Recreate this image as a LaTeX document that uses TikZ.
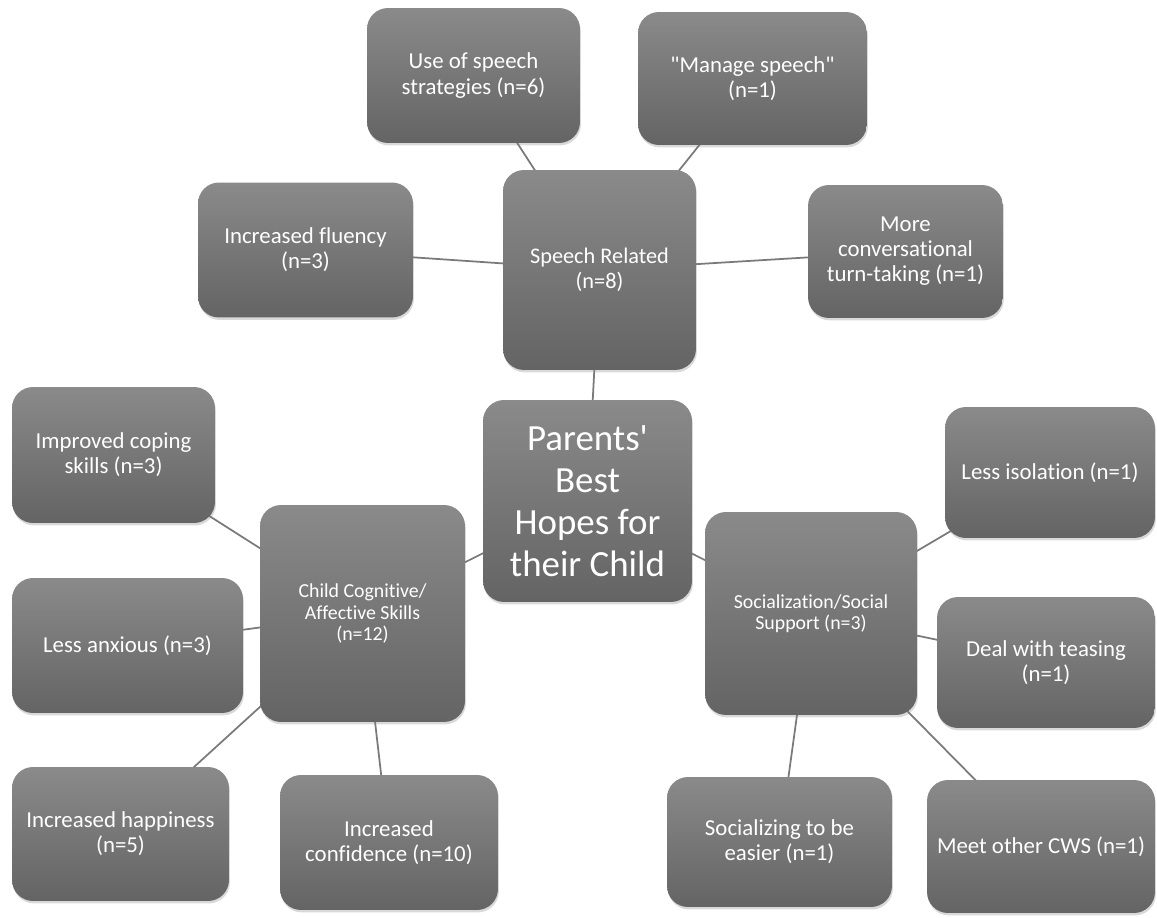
\documentclass[tikz,border=0pt]{standalone}
\usepackage{fontspec}
\newfontfamily\hopefont{Carlito}[Ligatures=NoCommon]
\usetikzlibrary{shadows,backgrounds}
\definecolor{boxtop}{HTML}{8A8A8A}
\definecolor{boxbottom}{HTML}{646464}
\definecolor{linkgray}{HTML}{7A7A7A}
\tikzset{
  hopebox/.style={rectangle, rounded corners=0.42cm, top color=boxtop, bottom color=boxbottom,
    text=white, align=center, inner sep=2pt,
    drop shadow={opacity=0.3, shadow xshift=0.5pt, shadow yshift=-1.4pt},
    font=\hopefont\fontsize{13}{14.3}\selectfont},
  hubbox/.style={hopebox, font=\hopefont\fontsize{11.3}{12}\selectfont},
  link/.style={draw=linkgray, line width=1pt}
}
\begin{document}
\begin{tikzpicture}[x=0.02cm, y=-0.02cm]
    % page
    \useasboundingbox (0, 0) rectangle (1157, 918);
    % centre
    \node [hopebox, minimum width=4.18cm, minimum height=4.04cm,
      font=\hopefont\fontsize{21}{23.8}\selectfont] (hopes) at (587.5, 501)
      {Parents'\\Best\\Hopes for\\their Child};
    % speech related
    \node [hopebox, minimum width=3.86cm, minimum height=4.0cm,
      font=\hopefont\fontsize{12.7}{14.3}\selectfont] (speech) at (599.5, 270)
      {Speech Related\\(n=8)};
    \node [hopebox, minimum width=4.26cm, minimum height=2.7cm] (strat) at (473.5, 75.5)
      {Use of speech\\strategies (n=6)};
    \node [hopebox, minimum width=4.58cm, minimum height=2.66cm] (manage) at (752.5, 78.5)
      {"Manage speech"\\(n=1)};
    \node [hopebox, minimum width=4.3cm, minimum height=2.7cm] (fluency) at (305.5, 250)
      {Increased fluency\\(n=3)};
    \node [hopebox, minimum width=3.9cm, minimum height=2.66cm] (turn) at (905.5, 251.5)
      {More\\conversational\\turn-taking (n=1)};
    % child cognitive / affective
    \node [hubbox, minimum width=4.1cm, minimum height=4.34cm] (child) at (362.5, 613.5)
      {Child Cognitive/\\Affective Skills\\(n=12)};
    \node [hopebox, minimum width=4.06cm, minimum height=2.72cm] (coping) at (113.5, 455)
      {Improved coping\\skills (n=3)};
    \node [hopebox, minimum width=4.62cm, minimum height=2.7cm] (anxious) at (127.5, 645.5)
      {Less anxious (n=3)};
    \node [hopebox, minimum width=4.34cm, minimum height=2.68cm] (happy) at (120.5, 834)
      {Increased happiness\\(n=5)};
    \node [hopebox, minimum width=4.36cm, minimum height=2.7cm] (confidence) at (389, 842.5)
      {Increased\\confidence (n=10)};
    % socialization
    \node [hubbox, minimum width=4.24cm, minimum height=4.06cm] (social) at (811, 613.5)
      {Socialization/Social\\Support (n=3)};
    \node [hopebox, minimum width=4.2cm, minimum height=2.62cm] (isolation) at (1050, 472.5)
      {Less isolation (n=1)};
    \node [hopebox, minimum width=4.36cm, minimum height=2.62cm] (teasing) at (1046, 662.5)
      {Deal with teasing\\(n=1)};
    \node [hopebox, minimum width=4.5cm, minimum height=2.6cm] (easier) at (779.5, 842)
      {Socializing to be\\easier (n=1)};
    \node [hopebox, minimum width=4.56cm, minimum height=2.66cm] (cws) at (1041, 846.5)
      {Meet other CWS (n=1)};
    % links
    \begin{scope}[on background layer]
      \foreach \a/\b in {speech/hopes, hopes/child, hopes/social,
          speech/strat, speech/manage, speech/fluency, speech/turn,
          child/coping, child/anxious, child/happy, child/confidence,
          social/isolation, social/teasing, social/easier, social/cws}
        \draw [link] (\a.center) -- (\b.center);
    \end{scope}
\end{tikzpicture}
\end{document}
